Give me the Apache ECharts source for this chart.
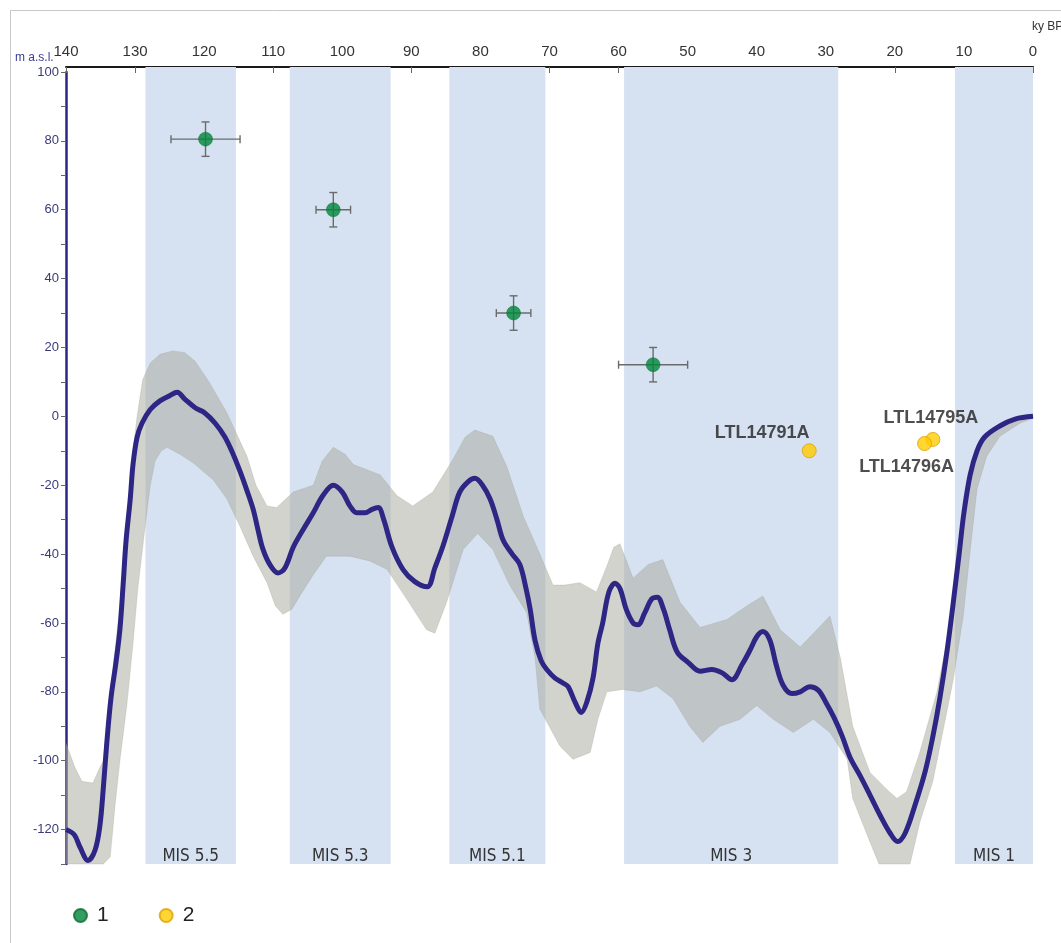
<!DOCTYPE html>
<html>
<head>
<meta charset="utf-8">
<script src="https://cdn.jsdelivr.net/npm/echarts@6/dist/echarts.min.js"></script>
<style>
html,body{margin:0;padding:0;background:#fff;}
#chart{width:1061px;height:943px;}
</style>
</head>
<body>
<div id="chart"></div>
<script>
// ---- Data ----
const misNames = ['MIS 5.5', 'MIS 5.3', 'MIS 5.1', 'MIS 3', 'MIS 1'];
const misStart = [128.5, 107.6, 84.5, 59.2, 11.3];
const misEnd = [115.4, 93.0, 70.6, 28.2, 0];

// sea-level curve [ky BP, m a.s.l.]
const seaLevelCurve = [
  [140,-120],[138.8,-121.5],[138,-125],[136.8,-129],[135.8,-126],[135.1,-119],[134.6,-108],
  [134.1,-95],[133.5,-82],[132.8,-72],[132.2,-62],[131.7,-48],[131.3,-36],[130.7,-24],[130.3,-14],
  [129.7,-6],[129.0,-2],[127.8,2],[126.4,4.5],[125.0,6],[123.9,7],[122.8,5],[121.3,2.5],[119.9,1],
  [118.4,-2],[117.0,-6],[115.8,-11],[114.8,-16],[113.9,-21],[112.9,-27],[112.2,-33],[111.5,-38.5],
  [110.5,-43],[109.3,-45.5],[108.3,-44],[107.1,-38],[105.7,-33],[104.2,-28],[102.8,-23],[101.3,-20],
  [100.0,-22],[98.9,-26],[97.9,-28],[96.7,-28],[95.7,-27],[94.8,-26.5],[94.0,-30],[92.8,-38],
  [91.2,-44.5],[89.5,-48],[87.7,-49.5],[86.6,-44],[85.4,-37.5],[84.1,-29],[83.0,-22],[81.8,-19],
  [80.8,-18],[79.7,-20],[78.6,-24],[77.6,-30],[76.7,-36],[75.4,-40],[74.3,-43],[73.4,-50],
  [72.8,-56],[72.1,-65],[71.2,-71],[70.4,-73.5],[69.2,-76],[68.0,-77.5],[67.3,-78.5],[66.3,-83],
  [65.4,-86],[64.6,-83],[63.7,-76],[63.0,-66],[62.3,-60],[61.4,-51],[60.5,-48.5],[59.8,-50],
  [58.9,-56],[57.9,-60],[57.2,-60.5],[56.2,-57],[55.2,-53],[54.4,-52.5],[53.5,-56],[52.6,-62],
  [51.5,-68.5],[49.9,-71.5],[48.2,-74],[46.5,-73.5],[45.0,-74.5],[43.6,-76.5],[42.1,-72],[41.0,-68],
  [40.0,-64],[39.1,-62.5],[38.1,-65],[37.2,-72],[36.2,-78],[34.9,-80.5],[33.7,-80],[32.3,-78.5],
  [31.1,-79.5],[30.0,-83],[28.8,-87.5],[27.6,-93],[26.5,-99],[25.0,-104.5],[23.6,-110],[22.1,-116],
  [20.7,-121],[19.6,-123.5],[18.5,-121],[17.1,-113],[15.6,-103],[14.5,-93],[13.5,-82],[12.5,-69],
  [11.6,-55],[10.7,-40],[10.0,-28],[9.1,-17],[8.1,-10],[7.0,-6],[4.8,-2.8],[2.6,-0.8],[0,0]
];

// uncertainty envelope
const envelopeUpper = [
  [140,-95],[138.7,-102],[137.7,-106],[136.1,-106.5],[135.1,-102],[134.6,-100],[134.1,-90],
  [133.5,-78],[132.8,-66],[132.2,-55],[131.6,-40],[131.0,-26],[130.3,-10],[129.7,0],[128.9,10.6],
  [127.8,15.5],[126.4,18],[124.5,19],[122.8,18.5],[121.3,16],[119.2,9.7],[116.7,1],[113.8,-11.6],
  [112.5,-20],[110.9,-26],[109.5,-26.5],[107.1,-22],[104.2,-20],[102.9,-13],[101.3,-9],[99.6,-11],
  [98.4,-14],[94.5,-17],[92.1,-23],[89.8,-26],[86.9,-22],[84.0,-12.6],[82.2,-6],[80.8,-4],
  [78.2,-5.8],[76.2,-14.5],[73.8,-29],[71.4,-40],[69.5,-49],[67.8,-49],[65.6,-48.3],[63.2,-51],
  [61.7,-43.5],[60.7,-38],[59.8,-37],[57.9,-47],[55.7,-43],[53.6,-41.6],[51.1,-54],[48.2,-61.3],
  [44.3,-59],[41.4,-55],[39.1,-52.2],[36.6,-62],[33.7,-67],[31.3,-62],[29.4,-58],[27.9,-70],
  [26.1,-90],[23.6,-103.4],[21.2,-108.3],[19.7,-111],[18.3,-109],[16.4,-97.6],[13.9,-80],[12.0,-60],
  [11.0,-45],[10.1,-30],[9.1,-17],[8.0,-9],[6.5,-4.5],[4.8,-2.3],[2.6,-0.5],[0,0.3]
];
const envelopeLower = [
  [140,-130],[134.6,-130],[133.6,-128],[132.9,-113],[132.2,-100],[131.2,-84],[130.3,-66],[129.6,-50],
  [128.9,-38],[128.3,-28],[127.8,-20],[127.1,-13],[126.2,-10],[125.4,-9],[123.5,-11],[121.6,-13.5],
  [118.7,-18.4],[116.7,-24],[114.8,-32],[112.9,-40.6],[110.9,-48.3],[109.7,-55],[108.6,-57.5],
  [107.3,-56],[106.1,-52],[104.2,-46],[102.3,-40.6],[98.9,-40.6],[96.0,-42],[93.5,-44.5],[90.7,-53],
  [87.8,-62],[86.6,-63],[84.9,-54],[82.5,-38.7],[80.4,-34],[78.2,-38.7],[75.7,-49.3],[73.3,-57],
  [72.1,-70],[71.4,-85],[68.5,-95.7],[66.6,-99.6],[64.1,-97.6],[63.0,-88],[61.7,-80],[59.4,-79.3],
  [56.9,-80],[54.5,-78.3],[52.1,-82],[49.7,-90],[47.8,-94.7],[45.3,-90],[42.4,-88],[40.0,-84],
  [37.6,-88],[34.7,-91.8],[31.8,-88],[29.4,-91.8],[26.9,-99.6],[26.1,-111],[23.6,-123.6],[22.3,-130],
  [17.8,-130],[16.4,-118],[14.5,-106],[11.6,-77],[10.1,-58],[9.1,-39],[8.1,-21],[6.7,-11.6],
  [4.8,-5.8],[1.9,-2],[0,-0.5]
];

// group 1 (green) with error bars
const greenAge = [119.8, 101.3, 75.2, 55.0];
const greenElev = [80.5, 60, 30, 15];
const greenAgeErr = [5, 2.5, 2.5, 5];
const greenElevErr = [5, 5, 5, 5];

// group 2 (yellow) labelled samples
const yellowNames = ['LTL14791A', 'LTL14795A', 'LTL14796A'];
const yellowAge = [32.4, 14.5, 15.7];
const yellowElev = [-10, -6.7, -7.9];

const xTickLabels = [0,10,20,30,40,50,60,70,80,90,100,110,120,130,140];
const yTickLabels = [-120,-100,-80,-60,-40,-20,0,20,40,60,80,100];

// ---- Chart ----
const chart = echarts.init(document.getElementById('chart'));
const FONT = '"Liberation Sans", Arial, sans-serif';
const NARROW = '"Liberation Sans Narrow", "DejaVu Sans Condensed", "Liberation Sans", sans-serif';
const labelOffsets = [[-47,-18],[-2,-21],[-18,23]];

const option = {
  animation: false,
  backgroundColor: '#ffffff',
  textStyle: { fontFamily: FONT },
  grid: { left: 66, right: 28, top: 72, bottom: 79, containLabel: false },
  xAxis: {
    type: 'value', position: 'top', inverse: true, min: 0, max: 140, interval: 10, offset: 5,
    axisLine: { show: true, onZero: false, lineStyle: { color: '#1a1a1a', width: 2 } },
    axisTick: { show: true, inside: true, length: 6, lineStyle: { color: '#666', width: 1 } },
    axisLabel: { show: true, color: '#333', fontSize: 15, margin: 8,
      formatter: v => (xTickLabels.indexOf(v) >= 0 ? String(v) : '') },
    splitLine: { show: false }
  },
  yAxis: {
    type: 'value', position: 'left', min: -130, max: 100, interval: 10,
    axisLine: { show: true, onZero: false, lineStyle: { color: '#2e2684', width: 2.5 } },
    axisTick: { show: true, inside: false, length: 5, lineStyle: { color: '#666', width: 1 } },
    axisLabel: { show: true, color: '#3a3a7a', fontSize: 13, margin: 7,
      formatter: v => (yTickLabels.indexOf(v) >= 0 ? String(v) : '') },
    splitLine: { show: false }
  },
  legend: {
    left: 68, top: 900, itemWidth: 13, itemHeight: 13, itemGap: 50, icon: 'circle',
    data: ['1', '2'],
    textStyle: { fontSize: 21, color: '#222', padding: [0, 0, 0, 5] }
  },
  graphic: [
    { type: 'rect', silent: true, z: -10, shape: { x: 10.5, y: 10.5, width: 1200, height: 1200 },
      style: { fill: 'none', stroke: '#c8c8c8', lineWidth: 1 } },
    { type: 'text', left: 1032, top: 21, style: { text: 'ky BP', fontSize: 12, fill: '#333', fontFamily: FONT } },
    { type: 'text', left: 15, top: 52, style: { text: 'm a.s.l.', fontSize: 12, fill: '#3b3b9a', fontFamily: FONT } }
  ],
  series: [
    {
      name: 'MIS', type: 'custom', z: 1, silent: true,
      data: misNames.map((n, i) => [misStart[i], misEnd[i]]),
      encode: { x: [0, 1] },
      renderItem: function (params, api) {
        const cs = params.coordSys;
        const x1 = api.coord([api.value(0), 0])[0];
        const x2 = api.coord([api.value(1), 0])[0];
        const left = Math.min(x1, x2), w = Math.abs(x2 - x1);
        return { type: 'group', children: [
          { type: 'rect', shape: { x: left, y: cs.y - 5, width: w, height: cs.height + 5 },
            style: { fill: '#d6e2f1' } },
          { type: 'text', x: left + w / 2, y: cs.y + cs.height + 1,
            style: { text: misNames[params.dataIndex], align: 'center', verticalAlign: 'bottom',
              fontSize: 17, fill: '#333', fontFamily: NARROW } }
        ] };
      }
    },
    {
      name: 'envelope', type: 'custom', z: 2, silent: true,
      data: [[70, 0]],
      renderItem: function (params, api) {
        const pts = envelopeUpper.map(p => api.coord(p))
          .concat(envelopeLower.slice().reverse().map(p => api.coord(p)));
        return { type: 'polygon', shape: { points: pts },
          style: { fill: 'rgba(170,170,160,0.52)', stroke: 'rgba(150,150,140,0.25)', lineWidth: 1 } };
      }
    },
    {
      name: 'curve', type: 'line', z: 3, silent: true,
      data: seaLevelCurve, smooth: 0.35, showSymbol: false, symbol: 'none',
      lineStyle: { color: '#2e2684', width: 5 }
    },
    {
      name: 'errors', type: 'custom', z: 4, silent: true,
      data: greenAge.map((a, i) => [a, greenElev[i], greenAgeErr[i], greenElevErr[i]]),
      encode: { x: 0, y: 1 },
      renderItem: function (params, api) {
        const a = api.value(0), e = api.value(1), da = api.value(2), de = api.value(3);
        const pL = api.coord([a + da, e]), pR = api.coord([a - da, e]);
        const pT = api.coord([a, e + de]), pB = api.coord([a, e - de]);
        const c = 4;
        const st = { stroke: '#6b6b6b', lineWidth: 1.4 };
        return { type: 'group', children: [
          { type: 'line', shape: { x1: pL[0], y1: pL[1], x2: pR[0], y2: pR[1] }, style: st },
          { type: 'line', shape: { x1: pT[0], y1: pT[1], x2: pB[0], y2: pB[1] }, style: st },
          { type: 'line', shape: { x1: pL[0], y1: pL[1] - c, x2: pL[0], y2: pL[1] + c }, style: st },
          { type: 'line', shape: { x1: pR[0], y1: pR[1] - c, x2: pR[0], y2: pR[1] + c }, style: st },
          { type: 'line', shape: { x1: pT[0] - c, y1: pT[1], x2: pT[0] + c, y2: pT[1] }, style: st },
          { type: 'line', shape: { x1: pB[0] - c, y1: pB[1], x2: pB[0] + c, y2: pB[1] }, style: st }
        ] };
      }
    },
    {
      name: '1', type: 'scatter', z: 5, symbol: 'circle', symbolSize: 14,
      itemStyle: { color: '#00863a', borderColor: '#0b6a30', borderWidth: 0.5 },
      data: greenAge.map((a, i) => [a, greenElev[i]])
    },
    {
      name: '2', type: 'scatter', z: 5, symbol: 'circle', symbolSize: 14,
      itemStyle: { color: '#ffcc00', borderColor: '#e0a000', borderWidth: 1 },
      data: yellowAge.map((a, i) => ({
        value: [a, yellowElev[i]], name: yellowNames[i],
        label: { offset: labelOffsets[i] }
      })),
      label: { show: true, position: 'inside', formatter: '{b}', fontSize: 18, fontWeight: 'bold',
        color: '#222', fontFamily: FONT }
    }
  ]
};
chart.setOption(option);
</script>
</body>
</html>
